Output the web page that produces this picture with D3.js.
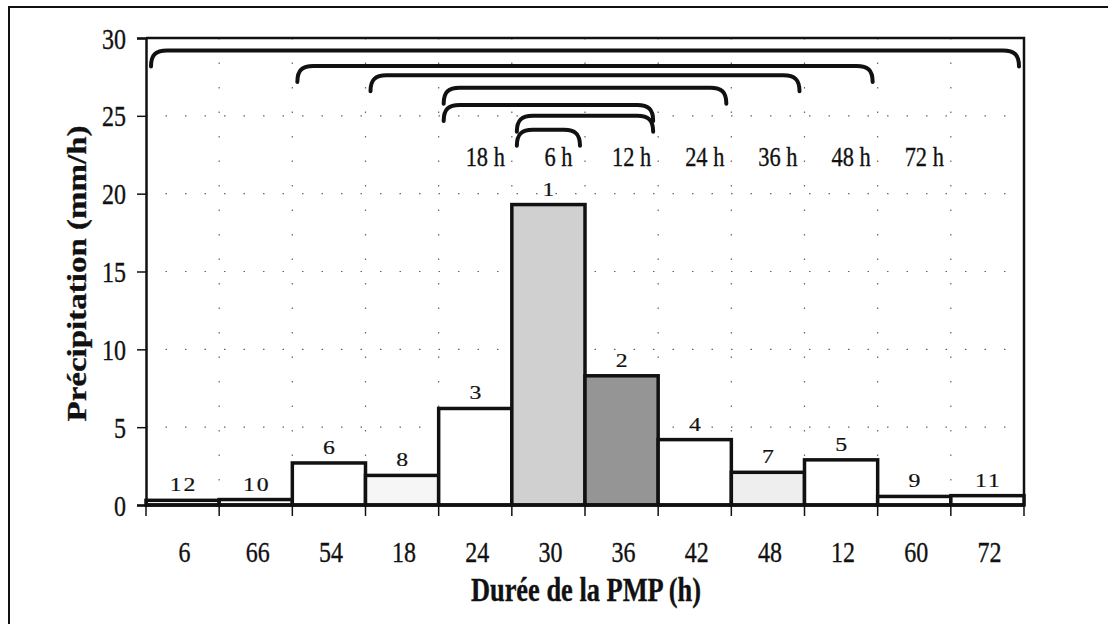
<!DOCTYPE html>
<html>
<head>
<meta charset="utf-8">
<script src="https://cdn.jsdelivr.net/npm/d3@7"></script>
<style>
  body { margin: 0; background: #fff; }
  svg { display: block; }
  text { font-family: "Liberation Serif", "Times New Roman", serif; fill: #111; stroke: #111; stroke-width: 0.35px; }
</style>
</head>
<body>
<script>
'use strict';

// durations (h) in the order shown on the x axis
const categories = ["6", "66", "54", "18", "24", "30", "36", "42", "48", "12", "60", "72"];
// precipitation (mm/h) per block
const values = [0.3, 0.35, 2.7, 1.9, 6.2, 19.3, 8.3, 4.2, 2.1, 2.9, 0.55, 0.6];
// rank of each block
const ranks = ["12", "10", "6", "8", "3", "1", "2", "4", "7", "5", "9", "11"];
const yTicks = [0, 5, 10, 15, 20, 25, 30];

// brackets grouping blocks into durations
const braceLabels = ["72 h", "48 h", "36 h", "24 h", "18 h", "12 h", "6 h"];
const braceStart = ["6", "54", "18", "24", "24", "30", "30"];
const braceEnd = ["72", "12", "48", "42", "36", "36", "30"];
const braceLevels = [29.2, 28.2, 27.6, 26.8, 25.7, 25.0, 24.1];
const braceLabelCats = ["60", "12", "48", "42", "24", "36", "30"];

const fills = {"30": "#d0d0d0", "36": "#959595", "48": "#eeeeee", "18": "#f6f6f6"};

const width = 1108, height = 624;
const margin = {left: 146, right: 84, top: 38, bottom: 119};
const sx = 0.8; // the scan is squeezed horizontally

const svg = d3.select("body").append("svg")
  .attr("width", width)
  .attr("height", height);

// outer frame (cut off at right and bottom)
svg.append("path")
  .attr("d", "M9,630 L9,7 L1110,7")
  .attr("fill", "none")
  .attr("stroke", "#111")
  .attr("stroke-width", 2);

const x = d3.scaleBand()
  .domain(categories)
  .range([margin.left, width - margin.right])
  .padding(0);

const y = d3.scaleLinear()
  .domain([0, 30])
  .range([height - margin.bottom, margin.top]);

const x0 = x.range()[0], x1 = x.range()[1];

// dotted grid
svg.append("g").selectAll("line")
  .data(yTicks.filter(d => d > 0 && d < 30))
  .join("line")
  .attr("x1", x0).attr("x2", x1)
  .attr("y1", d => y(d)).attr("y2", d => y(d))
  .attr("stroke", "#666")
  .attr("stroke-width", 1.2)
  .attr("stroke-dasharray", "1.5,18");

svg.append("g").selectAll("line")
  .data(categories.slice(1))
  .join("line")
  .attr("x1", d => x(d)).attr("x2", d => x(d))
  .attr("y1", y(30)).attr("y2", y(0))
  .attr("stroke", "#666")
  .attr("stroke-width", 1.2)
  .attr("stroke-dasharray", "1.5,23");

// top and right border of the plot
svg.append("path")
  .attr("d", `M${x0},${y(30)} L${x1},${y(30)} L${x1},${y(0)}`)
  .attr("fill", "none")
  .attr("stroke", "#111")
  .attr("stroke-width", 2.5);

// bars
svg.append("g").selectAll("rect")
  .data(categories)
  .join("rect")
  .attr("x", d => x(d))
  .attr("y", (d, i) => y(values[i]))
  .attr("width", x.bandwidth())
  .attr("height", (d, i) => y(0) - y(values[i]))
  .attr("fill", d => fills[d] || "#fff")
  .attr("stroke", "#111")
  .attr("stroke-width", 3.5);

// rank labels above bars
svg.append("g").selectAll("text")
  .data(categories)
  .join("text")
  .attr("transform", (d, i) => `translate(${x(d) + x.bandwidth() / 2 + 1},${y(values[i]) - 9}) scale(1.25,1)`)
  .attr("text-anchor", "middle")
  .style("font-size", "19px")
  .style("stroke-width", "0.2px")
  .style("letter-spacing", "1.5px")
  .text((d, i) => ranks[i]);

// y axis
const yAxis = d3.axisLeft(y).tickValues(yTicks).tickSize(9).tickFormat(d3.format("d"));
const gy = svg.append("g")
  .attr("transform", `translate(${x0},0)`)
  .call(yAxis);
gy.select(".domain").attr("stroke", "#111").attr("stroke-width", 2.5);
gy.selectAll(".tick line").attr("stroke", "#111").attr("stroke-width", 1.5);
gy.selectAll(".tick text")
  .attr("x", null).attr("dy", null)
  .attr("transform", `translate(-20,10) scale(${sx},1)`)
  .attr("text-anchor", "end")
  .attr("fill", "#111")
  .style("font-family", "Liberation Serif")
  .style("font-size", "30px");

// x axis: ticks at the block boundaries, labels in the middle
const gx = svg.append("g")
  .attr("transform", `translate(0,${y(0)})`);
gx.append("line")
  .attr("x1", x0).attr("x2", x1)
  .attr("stroke", "#111")
  .attr("stroke-width", 3.5);
gx.selectAll(".tk")
  .data(categories.concat(["end"]))
  .join("line")
  .attr("class", "tk")
  .attr("x1", (d, i) => x0 + i * x.bandwidth())
  .attr("x2", (d, i) => x0 + i * x.bandwidth())
  .attr("y1", 0).attr("y2", 11)
  .attr("stroke", "#111")
  .attr("stroke-width", 1.5);
gx.selectAll(".lbl")
  .data(categories)
  .join("text")
  .attr("class", "lbl")
  .attr("transform", d => `translate(${x(d) + x.bandwidth() / 2 + 2},57) scale(${sx},1)`)
  .attr("text-anchor", "middle")
  .style("font-size", "30px")
  .text(d => d);

// duration brackets
function bracePath(i) {
  const a = x(braceStart[i]) + 5;
  const b = x(braceEnd[i]) + x.bandwidth() - 5;
  const v = y(braceLevels[i]);
  const drop = 16, r = 16;
  return `M${a},${v + drop} C${a},${v + 4} ${a + 5},${v} ${a + r},${v}` +
    ` L${b - r},${v} C${b - 5},${v} ${b},${v + 4} ${b},${v + drop}`;
}

svg.append("g").selectAll("path")
  .data(braceLabels)
  .join("path")
  .attr("d", (d, i) => bracePath(i))
  .attr("fill", "none")
  .attr("stroke", "#111")
  .attr("stroke-width", 4)
  .attr("stroke-linecap", "round");

svg.append("g").selectAll("text")
  .data(braceLabels)
  .join("text")
  .attr("transform", (d, i) => `translate(${x(braceLabelCats[i]) + x.bandwidth() / 2 + 10},${y(21.8)}) scale(${sx},1)`)
  .attr("text-anchor", "middle")
  .style("font-size", "28px")
  .text(d => d);

// axis titles
svg.append("text")
  .attr("transform", `translate(${(x0 + x1) / 2 + 1},601) scale(${sx},1)`)
  .attr("text-anchor", "middle")
  .style("font-size", "33px")
  .style("font-weight", "bold")
  .text("Durée de la PMP (h)");

svg.append("text")
  .attr("transform", `translate(86,${(y(0) + y(30)) / 2 + 2}) scale(${sx},1) rotate(-90)`)
  .attr("text-anchor", "middle")
  .style("font-size", "33px")
  .style("font-weight", "bold")
  .text("Précipitation (mm/h)");
</script>
</body>
</html>
